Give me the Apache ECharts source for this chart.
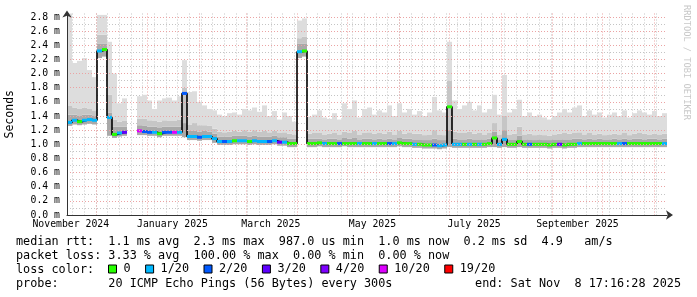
<!DOCTYPE html>
<html><head><meta charset="utf-8">
<script src="https://cdn.jsdelivr.net/npm/echarts@6/dist/echarts.min.js"></script>
<style>html,body{margin:0;padding:0;background:#fff}#c{width:697px;height:297px}</style>
</head><body><div id="c"></div>
<script>
// ---------- time frame ----------
const endTime = Date.UTC(2025, 10, 8, 17, 16, 28);
const spanDays = 360;
const binDays = 3;
const DAY = 86400000;
const startTime = endTime - spanDays * DAY;

// ---------- ticks / labels ----------
const monthLabels = ['November 2024', 'January 2025', 'March 2025', 'May 2025', 'July 2025', 'September 2025'];
const monthLabelDates = ['2024-11-16', '2025-01-16', '2025-03-16', '2025-05-16', '2025-07-16', '2025-09-16'];
const monthStartDates = ['2024-12-01', '2025-01-01', '2025-02-01', '2025-03-01', '2025-04-01', '2025-05-01', '2025-06-01', '2025-07-01', '2025-08-01', '2025-09-01', '2025-10-01', '2025-11-01'];
const firstWeekLine = '2024-11-17';
const yTicks = [0, 0.2, 0.4, 0.6, 0.8, 1.0, 1.2, 1.4, 1.6, 1.8, 2.0, 2.2, 2.4, 2.6, 2.8];
const yMinorTicks = [0.1, 0.3, 0.5, 0.7, 0.9, 1.1, 1.3, 1.5, 1.7, 1.9, 2.1, 2.3, 2.5, 2.7];

// ---------- loss classes ----------
const lossNames = ['0', '1/20', '2/20', '3/20', '4/20', '10/20', '19/20'];
const lossColors = ['#26ff00', '#00b8ff', '#0059ff', '#5e00ff', '#7e00ff', '#dd00ff', '#ff0000'];

// ---------- data (ms), one value per 3-day bin ----------
const medianRtt = [
1.31,1.34,1.32,1.34,1.35,1.34,2.32,2.34,1.38,1.14,
1.16,1.17,null,null,1.19,1.18,1.17,1.17,1.15,1.17,
1.17,1.17,1.17,1.72,1.11,1.11,1.10,1.11,1.11,1.08,
1.04,1.04,1.04,1.05,1.05,1.05,1.04,1.05,1.04,1.04,
1.04,1.05,1.03,1.03,1.01,1.01,2.31,2.32,1.01,1.01,
1.02,1.01,1.01,1.01,1.01,1.01,1.01,1.01,1.01,1.01,
1.01,1.01,1.01,1.01,1.01,1.01,1.02,1.01,1.01,1.00,
1.00,0.99,0.99,0.99,0.98,0.99,1.53,1.00,1.00,1.00,
1.00,1.00,1.00,1.00,1.01,1.09,1.00,1.07,1.00,1.00,
1.04,1.00,1.00,1.00,1.00,1.00,0.99,1.00,1.00,0.99,
1.00,1.00,1.01,1.01,1.01,1.01,1.01,1.01,1.01,1.01,
1.01,1.01,1.01,1.01,1.01,1.01,1.01,1.01,1.01,1.01];

const lossLevel = [
1,1,0,1,1,1,1,0,1,0,
1,3,0,0,5,2,2,1,0,2,
2,5,1,2,1,1,2,1,1,1,
1,2,1,0,1,1,0,1,1,1,
2,1,3,1,0,0,1,0,0,0,
0,1,0,0,2,0,0,0,1,0,
0,1,0,0,2,1,0,0,0,1,
0,0,0,2,1,1,0,1,1,0,
1,0,1,0,0,0,1,1,0,0,
0,0,2,0,0,0,0,0,3,0,
0,0,1,0,0,0,0,0,0,0,
1,2,0,0,0,0,0,0,0,1];

const smokeMin = [
1.26,1.28,1.27,1.28,1.29,1.28,2.22,2.24,1.12,1.09,
1.11,1.12,null,null,1.13,1.13,1.12,1.12,1.10,1.12,
1.12,1.12,1.12,1.10,1.06,1.06,1.05,1.06,1.06,1.02,
0.99,0.99,0.99,1.00,1.00,1.00,0.99,1.00,0.99,0.99,
0.99,1.00,0.98,0.98,0.96,0.96,2.22,2.24,0.96,0.96,
0.97,0.96,0.96,0.96,0.96,0.97,0.96,0.96,0.96,0.96,
0.96,0.96,0.96,0.96,0.96,0.96,0.97,0.96,0.96,0.95,
0.95,0.94,0.94,0.94,0.93,0.94,0.96,0.95,0.95,0.95,
0.95,0.95,0.95,0.95,0.96,0.96,0.95,0.96,0.95,0.95,
0.96,0.95,0.95,0.95,0.95,0.95,0.94,0.95,0.95,0.94,
0.95,0.95,0.96,0.96,0.96,0.96,0.96,0.96,0.96,0.96,
0.96,0.96,0.96,0.96,0.96,0.96,0.96,0.96,0.96,0.96];

const smokeDark = [
1.42,1.42,1.40,1.42,1.42,1.40,2.42,2.42,1.45,1.25,
1.25,1.25,null,null,1.27,1.26,1.25,1.25,1.24,1.25,
1.25,1.25,1.25,1.30,1.19,1.19,1.18,1.19,1.18,1.15,
1.11,1.11,1.11,1.12,1.12,1.12,1.11,1.12,1.11,1.11,
1.11,1.12,1.10,1.10,1.08,1.08,2.42,2.42,1.08,1.08,
1.08,1.07,1.08,1.08,1.07,1.09,1.08,1.09,1.07,1.08,
1.08,1.07,1.08,1.07,1.08,1.07,1.09,1.08,1.08,1.07,
1.07,1.06,1.06,1.08,1.06,1.06,1.20,1.08,1.07,1.07,
1.08,1.07,1.07,1.07,1.08,1.18,1.07,1.20,1.07,1.07,
1.12,1.07,1.07,1.06,1.07,1.06,1.06,1.07,1.07,1.07,
1.07,1.08,1.08,1.07,1.08,1.07,1.08,1.07,1.07,1.08,
1.07,1.08,1.07,1.08,1.08,1.07,1.08,1.08,1.07,1.08];

const smokeMid = [
1.55,1.52,1.50,1.52,1.50,1.48,2.55,2.55,1.70,1.35,
1.32,1.33,null,null,1.36,1.36,1.34,1.33,1.32,1.34,
1.33,1.33,1.35,1.80,1.28,1.30,1.27,1.27,1.26,1.22,
1.18,1.17,1.18,1.19,1.18,1.20,1.18,1.20,1.18,1.19,
1.17,1.19,1.16,1.17,1.15,1.14,2.50,2.52,1.15,1.16,
1.16,1.14,1.15,1.16,1.14,1.18,1.16,1.19,1.14,1.16,
1.17,1.15,1.16,1.15,1.18,1.14,1.19,1.15,1.17,1.15,
1.15,1.13,1.14,1.20,1.14,1.13,1.90,1.18,1.16,1.16,
1.18,1.15,1.16,1.14,1.16,1.30,1.14,1.40,1.14,1.15,
1.25,1.14,1.15,1.13,1.14,1.13,1.12,1.14,1.15,1.16,
1.15,1.16,1.17,1.14,1.16,1.14,1.15,1.13,1.14,1.15,
1.14,1.16,1.13,1.15,1.16,1.15,1.14,1.15,1.14,1.15];

const smokeMax = [
2.85,2.15,2.18,2.22,2.05,1.95,2.83,2.83,2.45,2.00,
1.58,1.65,null,null,1.68,1.70,1.62,1.50,1.62,1.65,
1.66,1.62,1.68,2.19,1.74,1.75,1.60,1.55,1.50,1.48,
1.42,1.40,1.44,1.45,1.42,1.50,1.48,1.52,1.46,1.55,
1.40,1.47,1.35,1.45,1.40,1.32,2.75,2.78,1.39,1.42,
1.48,1.38,1.36,1.44,1.35,1.58,1.50,1.62,1.38,1.50,
1.52,1.42,1.48,1.45,1.55,1.40,1.58,1.45,1.50,1.42,
1.47,1.40,1.45,1.67,1.48,1.45,2.45,1.62,1.50,1.55,
1.60,1.48,1.55,1.45,1.50,1.70,1.42,1.98,1.45,1.50,
1.63,1.40,1.45,1.40,1.42,1.38,1.35,1.40,1.45,1.50,
1.45,1.52,1.55,1.40,1.48,1.42,1.45,1.38,1.42,1.45,
1.40,1.48,1.38,1.44,1.48,1.45,1.42,1.47,1.40,1.44];

// ---------- legend text ----------
const statLines = [
  'median rtt:  1.1 ms avg  2.3 ms max  987.0 us min  1.0 ms now  0.2 ms sd  4.9   am/s',
  'packet loss: 3.33 % avg  100.00 % max  0.00 % min  0.00 % now',
  'loss color:',
  'probe:       20 ICMP Echo Pings (56 Bytes) every 300s'
];
const endText = 'end: Sat Nov  8 17:16:28 2025';
const watermark = 'RRDTOOL / TOBI OETIKER';

// ---------- build ----------
const toTime = s => new Date(s + 'T00:00:00Z').getTime();
const labelTimes = monthLabelDates.map(toTime);
const monthTimes = monthStartDates.map(toTime);
const weekTimes = [];
for (let t = toTime(firstWeekLine); t < endTime; t += 7 * DAY) weekTimes.push(t);

const binStart = i => startTime + i * binDays * DAY;
const smokeData = [];
const lineData = [];
const lossData = lossNames.map(() => []);
medianRtt.forEach((m, i) => {
  const t0 = binStart(i), t1 = binStart(i + 1);
  if (m == null) { lineData.push([t0, null]); return; }
  smokeData.push([t0, t1, smokeMin[i], smokeDark[i], smokeMid[i], smokeMax[i]]);
  lineData.push([t0, m], [t1, m]);
  lossData[lossLevel[i]].push([t0, t1, m]);
});

const MONO = 'DejaVu Sans Mono';
const smokeColors = ['#a9a9a9', '#c6c6c6', '#dddddd'];

const chart = echarts.init(document.getElementById('c'), null, {renderer: 'canvas'});

const xBase = {type: 'value', min: startTime, max: endTime, position: 'bottom'};
const yBase = {type: 'value', min: 0, max: 2.85};

const series = [
  {
    type: 'custom', name: 'smoke', xAxisIndex: 0, yAxisIndex: 0, silent: true, z: 1,
    data: smokeData,
    encode: {x: [0, 1], y: [2, 3, 4, 5]},
    renderItem(params, api) {
      const x0 = Math.round(api.coord([api.value(0), 0])[0]);
      const x1 = Math.round(api.coord([api.value(1), 0])[0]);
      const lv = [api.value(2), api.value(3), api.value(4), api.value(5)];
      const children = [];
      for (let k = 0; k < 3; k++) {
        const yTop = api.coord([api.value(0), lv[k + 1]])[1];
        const yBot = api.coord([api.value(0), lv[k]])[1];
        children.push({type: 'rect', shape: {x: x0, y: yTop, width: x1 - x0, height: yBot - yTop},
          style: {fill: smokeColors[k]}});
      }
      return {type: 'group', children};
    }
  },
  {
    type: 'line', name: 'median', xAxisIndex: 0, yAxisIndex: 0, data: lineData, showSymbol: false,
    connectNulls: false, silent: true, z: 2,
    lineStyle: {color: '#000', width: 1.6}
  }
];
lossNames.forEach((nm, k) => {
  series.push({
    type: 'custom', name: nm, xAxisIndex: 0, yAxisIndex: 0, silent: true, z: 3,
    itemStyle: {color: lossColors[k]},
    data: lossData[k],
    encode: {x: [0, 1], y: 2},
    renderItem(params, api) {
      const x0 = Math.round(api.coord([api.value(0), 0])[0]);
      const x1 = Math.round(api.coord([api.value(1), 0])[0]);
      const y = api.coord([api.value(0), api.value(2)])[1];
      return {type: 'rect', shape: {x: x0, y: y - 1.5, width: x1 - x0, height: 3},
        style: {fill: lossColors[k]}};
    }
  });
});

const textItem = (x, y, text, extra) => Object.assign({
  type: 'text', x, y, silent: true,
  style: Object.assign({text, fontFamily: MONO, fontSize: 11.8, fill: '#000',
    align: 'left', textAlign: 'left', verticalAlign: 'middle', textVerticalAlign: 'middle'}, extra || {})
});

chart.setOption({
  animation: false,
  backgroundColor: '#fff',
  grid: {left: 67, right: 30, top: 13.5, bottom: 82, containLabel: false, outerBoundsMode: 'none'},
  xAxis: [
    Object.assign({}, xBase, {
      axisLine: {show: true, onZero: false, lineStyle: {color: '#333', width: 1},
        symbol: ['none', 'arrow'], symbolSize: [7, 7], symbolOffset: [0, 6]},
      axisTick: {show: false, customValues: labelTimes},
      axisLabel: {customValues: labelTimes, margin: 4, fontFamily: MONO, fontSize: 9.8, color: '#000',
        formatter: v => {
          let best = 0;
          labelTimes.forEach((t, i) => { if (Math.abs(t - v) < Math.abs(labelTimes[best] - v)) best = i; });
          return monthLabels[best];
        }},
      splitLine: {show: false}, z: 5
    }),
    Object.assign({}, xBase, {
      axisLine: {show: false}, axisLabel: {show: false},
      axisTick: {show: false, customValues: weekTimes},
      splitLine: {show: true, lineStyle: {color: '#c4c4c4', width: 1, type: [1, 2]}}
    }),
    Object.assign({}, xBase, {
      axisLine: {show: false}, axisLabel: {show: false},
      axisTick: {show: false, customValues: monthTimes},
      splitLine: {show: true, lineStyle: {color: '#eba3a3', width: 1, type: [1, 2]}}
    })
  ],
  yAxis: [
    Object.assign({}, yBase, {
      name: 'Seconds', nameLocation: 'middle', nameGap: 51,
      nameTextStyle: {fontFamily: MONO, fontSize: 11.5, color: '#000'},
      axisLine: {show: true, onZero: false, lineStyle: {color: '#333', width: 1},
        symbol: ['none', 'arrow'], symbolSize: [7, 7], symbolOffset: [0, 3]},
      axisTick: {show: false, customValues: yTicks},
      axisLabel: {customValues: yTicks, margin: 7, fontFamily: MONO, fontSize: 9.8, color: '#000',
        formatter: v => v.toFixed(1) + ' m'},
      splitLine: {show: true, lineStyle: {color: '#eba3a3', width: 1, type: [1, 2]}}, z: 5
    }),
    Object.assign({}, yBase, {
      axisLine: {show: false}, axisLabel: {show: false},
      axisTick: {show: false, customValues: yMinorTicks},
      splitLine: {show: true, lineStyle: {color: '#c4c4c4', width: 1, type: [1, 2]}}
    })
  ],
  legend: {
    data: lossNames, left: 108, top: 263, padding: 0, orient: 'horizontal',
    icon: 'rect', itemWidth: 8, itemHeight: 8, itemGap: 14.5, selectedMode: false,
    itemStyle: {borderColor: '#000', borderWidth: 1},
    textStyle: {fontFamily: MONO, fontSize: 11.8, color: '#000', padding: [0, 0, 0, 2]}
  },
  graphic: [
    textItem(16, 241.5, statLines[0]),
    textItem(16, 255.5, statLines[1]),
    textItem(16, 269.5, statLines[2]),
    textItem(16, 283.5, statLines[3]),
    textItem(681, 283.5, endText, {align: 'right', textAlign: 'right'}),
    Object.assign(textItem(686, 5, watermark, {fontSize: 8.7, fill: '#c8c8c8'}), {rotation: -Math.PI / 2})
  ],
  series
});
</script></body></html>
